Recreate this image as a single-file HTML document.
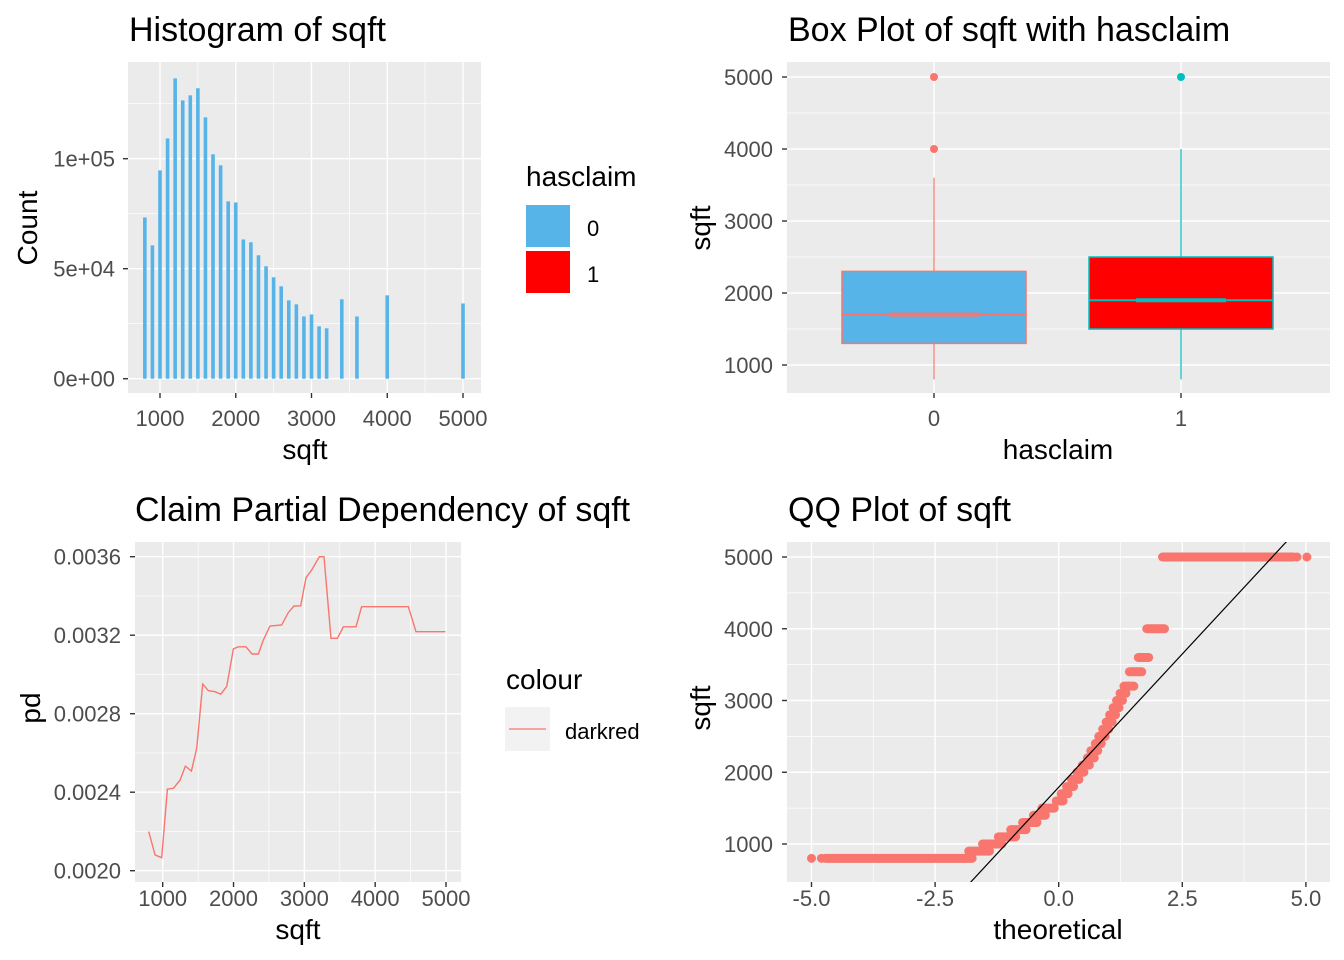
<!DOCTYPE html>
<html><head><meta charset="utf-8"><style>
body{margin:0;background:#fff}
svg{display:block;font-family:"Liberation Sans",Arial,sans-serif}
</style></head><body>
<svg id="c" width="1344" height="960" xmlns="http://www.w3.org/2000/svg">
<g style="font-size:34px" fill="#000">
<text x="129" y="41">Histogram of sqft</text>
<text x="788" y="41">Box Plot of sqft with hasclaim</text>
<text x="135" y="521">Claim Partial Dependency of sqft</text>
<text x="788" y="521">QQ Plot of sqft</text>
</g>
<g style="font-size:28px" fill="#000">
<text x="305" y="459" text-anchor="middle">sqft</text>
<text transform="translate(37,228) rotate(-90)" text-anchor="middle">Count</text>
<text x="1058" y="459" text-anchor="middle">hasclaim</text>
<text transform="translate(710,228) rotate(-90)" text-anchor="middle">sqft</text>
<text x="298" y="939" text-anchor="middle">sqft</text>
<text transform="translate(40,708) rotate(-90)" text-anchor="middle">pd</text>
<text x="1058" y="939" text-anchor="middle">theoretical</text>
<text transform="translate(710,708) rotate(-90)" text-anchor="middle">sqft</text>
</g>
<g>
<text x="526" y="186" style="font-size:28px">hasclaim</text>
<rect x="526" y="205" width="44" height="42" fill="#56B4E9"/>
<rect x="526" y="251" width="44" height="42" fill="#FF0000"/>
<text x="587" y="236" style="font-size:22px">0</text>
<text x="587" y="282" style="font-size:22px">1</text>
</g>
<g>
<text x="506" y="689" style="font-size:28px">colour</text>
<rect x="505" y="707" width="45" height="44" fill="#f2f2f2"/>
<line x1="509" y1="729" x2="546" y2="729" stroke="#F8766D" stroke-width="1.2"/>
<text x="565" y="739" style="font-size:22px">darkred</text>
</g>
</svg>
<script>
// ---- data ----
const histBins=[800,900,1000,1100,1200,1300,1400,1500,1600,1700,1800,1900,2000,2100,2200,2300,2400,2500,2600,2700,2800,2900,3000,3100,3200,3400,3600,4000,5000];
const histCounts=[73300,60600,94700,109200,136500,126500,128800,132000,118800,102000,97000,80600,80100,63300,62000,56100,51100,46100,42000,35600,33800,28300,29200,23800,22900,36100,28300,37900,34200];
const histXTicks=[1000,2000,3000,4000,5000];
const histYTicks=[0,50000,100000];
const histYLabels=["0e+00","5e+04","1e+05"];
const boxCats=["0","1"];
const boxLower=[800,800];
const boxQ1=[1300,1500];
const boxMed=[1700,1900];
const boxQ3=[2300,2500];
const boxUpper=[3600,4000];
const boxOut0=[4000,5000];
const boxOut1=[5000];
const boxYTicks=[1000,2000,3000,4000,5000];
const pdX=[802,892,986,1066,1151,1245,1320,1405,1480,1565,1645,1739,1819,1904,1998,2068,2176,2261,2351,2421,2515,2680,2774,2854,2948,3024,3104,3212,3278,3376,3466,3551,3729,3809,4468,4576,4991];
const pdY=[0.002199,0.002080,0.002066,0.002416,0.002420,0.002462,0.002533,0.002508,0.002623,0.002951,0.002917,0.002912,0.002900,0.002938,0.003130,0.003141,0.003141,0.003104,0.003104,0.003175,0.003247,0.003252,0.003315,0.003349,0.003350,0.003493,0.003532,0.003600,0.003600,0.003184,0.003184,0.003243,0.003243,0.003345,0.003345,0.003218,0.003218];
const pdXTicks=[1000,2000,3000,4000,5000];
const pdYTicks=[0.0020,0.0024,0.0028,0.0032,0.0036];
const qqLevels=[800,800,800,900,1000,1100,1200,1300,1400,1500,1600,1700,1800,1900,2000,2100,2200,2300,2400,2500,2600,2700,2800,2900,3000,3100,3200,3400,3600,4000,5000,5000,5000];
const qqStart=[-5.0,-4.8,-4.72,-1.82,-1.54,-1.22,-0.97,-0.73,-0.51,-0.34,-0.05,0.05,0.16,0.26,0.37,0.48,0.58,0.65,0.74,0.81,0.89,0.96,1.03,1.10,1.17,1.24,1.32,1.43,1.61,1.78,2.10,4.82,5.02];
const qqEnd=[-5.0,-4.8,-1.75,-1.40,-1.15,-0.87,-0.66,-0.44,-0.27,-0.09,0.09,0.19,0.30,0.41,0.51,0.62,0.72,0.79,0.86,0.94,1.01,1.08,1.15,1.22,1.29,1.36,1.52,1.68,1.82,2.14,4.75,4.82,5.02];
const qqLineSlope=[743];
const qqLineIntercept=[1791];
const qqXTicks=[-5,-2.5,0,2.5,5];
const qqXLabels=["-5.0","-2.5","0.0","2.5","5.0"];
const qqYTicks=[1000,2000,3000,4000,5000];

const NS="http://www.w3.org/2000/svg";
const svg=document.getElementById('c');
function mk(tag,a,parent){const e=document.createElementNS(NS,tag);for(const k in a)e.setAttribute(k,a[k]);(parent||svg).appendChild(e);return e;}
function lin(d0,d1,r0,r1){return v=>r0+(v-d0)*(r1-r0)/(d1-d0);}

function panel(name,x0,y0,x1,y1,xMaj,xMin,yMaj,yMin,X,Y){
  const g=mk('g',{});
  
  
  const bg=mk('rect',{x:x0,y:y0,width:x1-x0,height:y1-y0,fill:'#ebebeb'},g);
  
  
  xMin.forEach(v=>{const l=mk('line',{x1:X(v),x2:X(v),y1:y0,y2:y1,stroke:'#fff','stroke-width':0.7},g);
    
    });
  yMin.forEach(v=>{const l=mk('line',{x1:x0,x2:x1,y1:Y(v),y2:Y(v),stroke:'#fff','stroke-width':0.7},g);
    
    });
  xMaj.forEach(v=>{const l=mk('line',{x1:X(v),x2:X(v),y1:y0,y2:y1,stroke:'#fff','stroke-width':1.4},g);
    
    
    const t=mk('line',{x1:X(v),x2:X(v),y1:y1,y2:y1+5,stroke:'#333','stroke-width':1.4},g);
    
    });
  yMaj.forEach(v=>{const l=mk('line',{x1:x0,x2:x1,y1:Y(v),y2:Y(v),stroke:'#fff','stroke-width':1.4},g);
    
    
    const t=mk('line',{x1:x0-5,x2:x0,y1:Y(v),y2:Y(v),stroke:'#333','stroke-width':1.4},g);
    
    });
  return g;
}
function tickText(x,y,s,anchor,name){const t=mk('text',{x:x,y:y,'text-anchor':anchor,fill:'#4d4d4d',style:'font-size:22px'});t.textContent=s;
  
  }

// ---- histogram ----
{const X=lin(1000,5000,160,463),Y=lin(0,100000,378.7,158.7);
 const xMin=[1500,2500,3500,4500];const yMin=[25000,75000,125000];
 const g=panel('histogram',128,62,481,393,histXTicks,xMin,histYTicks,yMin,X,Y);
 histBins.forEach((b,i)=>{const r=mk('rect',{x:X(b)-1.8,y:Y(histCounts[i]),width:3.6,height:Y(0)-Y(histCounts[i]),fill:'#56B4E9'},g);
   
   });
 histXTicks.forEach(v=>tickText(X(v),426,String(v),'middle','hist-x-tick-label'));
 histYTicks.forEach((v,i)=>tickText(115,Y(v)+8,histYLabels[i],'end','hist-y-tick-label'));
}
// ---- boxplot ----
{const Y=lin(1000,5000,365,77);const X=i=>[934,1181][i];
 const g=panel('boxplot',787,62,1330,393,[0,1],[],boxYTicks,[1500,2500,3500,4500],X,Y);
 const fills=['#56B4E9','#FF0000'],strokes=['#F8766D','#00BFC4'];
 const outs=[boxOut0,boxOut1];
 boxCats.forEach((c,i)=>{const cx=X(i),hw=92;
   const w=mk('line',{x1:cx,x2:cx,y1:Y(boxLower[i]),y2:Y(boxUpper[i]),stroke:strokes[i],'stroke-width':1.2},g);
   
   
   const b=mk('rect',{x:cx-hw,y:Y(boxQ3[i]),width:2*hw,height:Y(boxQ1[i])-Y(boxQ3[i]),fill:fills[i],stroke:strokes[i],'stroke-width':1.5},g);
   
   
   const m=mk('line',{x1:cx-hw,x2:cx+hw,y1:Y(boxMed[i]),y2:Y(boxMed[i]),stroke:strokes[i],'stroke-width':2},g);
   
   
   const m2=mk('line',{x1:cx-45,x2:cx+45,y1:Y(boxMed[i]),y2:Y(boxMed[i]),stroke:strokes[i],'stroke-width':4},g);
   
   
   outs[i].forEach(v=>{const o=mk('circle',{cx:cx,cy:Y(v),r:4,fill:strokes[i]},g);
     
     });
   tickText(cx,426,c,'middle','box-x-tick-label');});
 boxYTicks.forEach(v=>tickText(773,Y(v)+8,String(v),'end','box-y-tick-label'));
}
// ---- partial dependency ----
{const X=lin(1000,5000,162.7,446),Y=lin(0.0020,0.0036,870.7,556.7);
 const g=panel('pd',135,542,461,882,pdXTicks,[1500,2500,3500,4500],pdYTicks,[0.0022,0.0026,0.0030,0.0034],X,Y);
 const d=pdX.map((x,i)=>(i?'L':'M')+X(x).toFixed(1)+','+Y(pdY[i]).toFixed(1)).join('');
 const p=mk('path',{d:d,fill:'none',stroke:'#F8766D','stroke-width':1.4},g);
 
 
 pdXTicks.forEach(v=>tickText(X(v),906,String(v),'middle','pd-x-tick-label'));
 pdYTicks.forEach(v=>tickText(121,Y(v)+8,v.toFixed(4),'end','pd-y-tick-label'));
}
// ---- QQ ----
{const X=lin(-5,5,811.5,1305.9),Y=lin(1000,5000,844,557);
 const g=panel('qq',787,542,1330,882,qqXTicks,[-3.75,-1.25,1.25,3.75],qqYTicks,[1500,2500,3500,4500],X,Y);
 const cp=mk('clipPath',{id:'qqclip'},g);mk('rect',{x:787,y:542,width:543,height:340},cp);
 qqLevels.forEach((v,i)=>{const l=mk('line',{x1:X(qqStart[i]),x2:X(qqEnd[i])+0.01,y1:Y(v),y2:Y(v),stroke:'#F8766D','stroke-width':9,'stroke-linecap':'round'},g);
   
   });
 const t0=-2,t1=5;
 const ln=mk('line',{x1:X(t0),y1:Y(qqLineIntercept[0]+qqLineSlope[0]*t0),x2:X(t1),y2:Y(qqLineIntercept[0]+qqLineSlope[0]*t1),stroke:'#000','stroke-width':1.2,'clip-path':'url(#qqclip)'},g);
 
 
 qqXTicks.forEach((v,i)=>tickText(X(v),906,qqXLabels[i],'middle','qq-x-tick-label'));
 qqYTicks.forEach(v=>tickText(773,Y(v)+8,String(v),'end','qq-y-tick-label'));
}
</script>
</body></html>
